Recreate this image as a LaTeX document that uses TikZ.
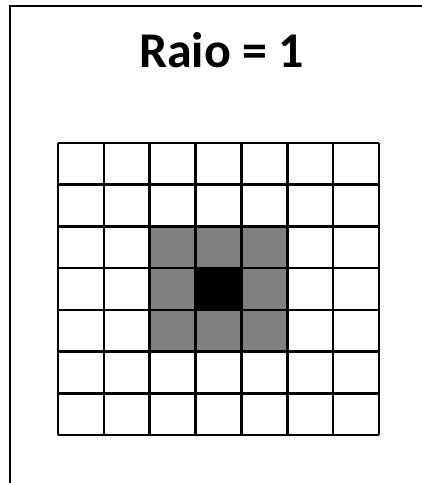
\documentclass[tikz,border=0pt]{standalone}
\usepackage{fontspec}
\setmainfont{Carlito}
\definecolor{cellgray}{HTML}{808080}
\begin{document}
\begin{tikzpicture}[x=1pt,y=-1pt,
  gridline/.style={line width=2.6pt,black},
  frameline/.style={line width=2.2pt,black},
  graycell/.style={fill=cellgray},
  blackcell/.style={fill=black}]
\useasboundingbox (0,0) rectangle (422,483);
\fill[white] (0,0) rectangle (422,483);
% frame
\draw[frameline] (10,483) -- (10,6) -- (422,6);
% title
\node[font=\bfseries\fontsize{50}{60}\selectfont, anchor=base, inner sep=0pt] (title) at (221.5,67.5) {Raio = 1};
% cells
\pgfmathsetmacro{\cw}{(379-58)/7}
\pgfmathsetmacro{\ch}{(435-143)/7}
\fill[graycell] (58+2*\cw,143+2*\ch) rectangle (58+5*\cw,143+5*\ch);
\fill[blackcell] (58+3*\cw,143+3*\ch) rectangle (58+4*\cw,143+4*\ch);
% grid
\foreach \i in {0,...,7} {
  \draw[gridline] (58+\i*\cw,143) -- (58+\i*\cw,435);
  \draw[gridline] (58,143+\i*\ch) -- (379,143+\i*\ch);
}
\end{tikzpicture}
\end{document}
